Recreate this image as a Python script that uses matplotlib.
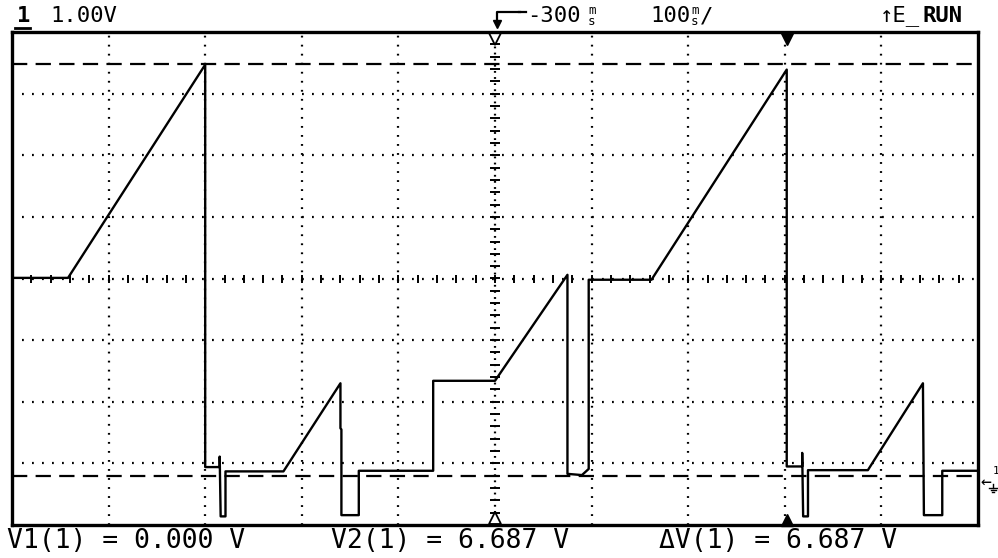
import matplotlib
matplotlib.use("Agg")
from matplotlib import pyplot as plt
from matplotlib.lines import Line2D
import numpy as np

plt.rcParams['lines.scale_dashes'] = False
plt.rcParams['font.family'] = ['DejaVu Sans Mono', 'DejaVu Sans']

W, H = 998, 558

# scope settings shown on screen
volts_per_div = 1.00
ms_per_div = 100
centre_volts = 3.21      # level of the centre graticule line
cursor_v1 = 0.000
cursor_v2 = 6.687
trigger_ms = 500
marker_ms = 802

# trace: time in ms, level in volts
t_ms = [0, 58, 200, 200, 215, 215, 216, 221, 221,
        281, 340, 340, 341, 341, 359, 359,
        436, 436, 500, 575, 575, 590, 597, 597,
        662, 802, 802, 818, 818, 819, 824, 824,
        886, 943, 944, 963, 963, 1000]
volts = [3.22, 3.22, 6.68, 0.15, 0.15, 0.32, -0.65, -0.65, 0.08,
         0.08, 1.51, 0.78, 0.76, -0.63, -0.63, 0.09,
         0.09, 1.55, 1.55, 3.27, 0.04, 0.02, 0.12, 3.19,
         3.19, 6.60, 0.16, 0.16, 0.38, -0.65, -0.65, 0.10,
         0.10, 1.51, -0.63, -0.63, 0.09, 0.09]

fig = plt.figure(figsize=(W / 100, H / 100), dpi=100)


def fx(x):
    return x / W


def fy(y):
    return 1 - y / H


ax = fig.add_axes([fx(12), fy(525), (978 - 12) / W, (525 - 32) / H])
ax.set_xlim(0, 10 * ms_per_div)
ax.set_ylim(centre_volts - 4 * volts_per_div, centre_volts + 4 * volts_per_div)
ax.set_xticks([])
ax.set_yticks([])
for s in ax.spines.values():
    s.set_linewidth(2.4)

# graticule
for i in range(1, 10):
    if i != 5:
        ax.axvline(i * ms_per_div, color='black', lw=1.6, ls=(0, (1.3, 5.2)))
for j in range(-3, 4):
    if j != 0:
        ax.axhline(centre_volts + j * volts_per_div, color='black', lw=1.6, ls=(0, (1.3, 5.9)))

# centre axes with minor ticks
ax.axhline(centre_volts, color='black', lw=1.6, ls=(0, (1.3, 5.9)))
ax.axvline(5 * ms_per_div, color='black', lw=1.6, ls=(0, (1.3, 3.1)))
xt = np.arange(0, 10 * ms_per_div + 1, ms_per_div / 5)
ax.plot(xt, [centre_volts] * len(xt), ls='none', marker='|', ms=6, mew=1.4, color='black')
yt = centre_volts + np.arange(-4, 4.01, 0.2) * volts_per_div
ax.plot([5 * ms_per_div] * len(yt), yt, ls='none', marker='_', ms=7, mew=1.4, color='black')

# cursors
for v in (cursor_v1, cursor_v2):
    ax.axhline(v, color='black', lw=1.6, ls=(0, (11, 6)))

# trace
ax.plot(t_ms, volts, color='black', lw=1.7)

# position markers at top and bottom of the screen
xa = ax.get_xaxis_transform()
ax.plot([trigger_ms], [0.985], transform=xa, marker='v', ms=8, mfc='white', mec='black', mew=1.3, clip_on=False)
ax.plot([trigger_ms], [0.015], transform=xa, marker='^', ms=8, mfc='white', mec='black', mew=1.3, clip_on=False)
ax.plot([marker_ms], [0.985], transform=xa, marker='v', ms=8, color='black', clip_on=False)
ax.plot([marker_ms], [0.01], transform=xa, marker='^', ms=8, color='black', clip_on=False)

# header
fig.text(fx(17), fy(16), "1", fontsize=16, fontweight='bold', va='center')
fig.add_artist(Line2D([fx(15), fx(30)], [fy(28), fy(28)], color='black', lw=2))
fig.text(fx(50), fy(16), "1.00V", fontsize=16, va='center')

fig.add_artist(Line2D([fx(497), fx(497), fx(520)], [fy(24), fy(12), fy(12)], color='black', lw=1.6))
fig.add_artist(Line2D([fx(497)], [fy(24)], marker='v', ms=6, color='black'))
fig.add_artist(Line2D([fx(519), fx(526)], [fy(12), fy(12)], color='black', lw=1.6))
fig.text(fx(527), fy(16), "-300", fontsize=16, va='center')
fig.text(fx(588), fy(16), "m\ns", fontsize=9, va='center', linespacing=0.85)
fig.text(fx(650), fy(16), "100", fontsize=16, va='center')
fig.text(fx(691), fy(16), "m\ns", fontsize=9, va='center', linespacing=0.85)
fig.text(fx(700), fy(16), "/", fontsize=16, va='center')

fig.text(fx(880), fy(16), "\u2191E_", fontsize=16, va='center')
fig.text(fx(922), fy(16), "RUN", fontsize=16, fontweight='bold', va='center')

# ground reference marker on the right
fig.text(fx(980), fy(482), "\u2190", fontsize=13, va='center')
fig.text(fx(993), fy(471), "1", fontsize=8, va='center')
gx, gy = 993, 488
fig.add_artist(Line2D([fx(gx), fx(gx)], [fy(gy - 4), fy(gy)], color='black', lw=1))
for k, half in enumerate((4, 2.5, 1)):
    fig.add_artist(Line2D([fx(gx - half), fx(gx + half)], [fy(gy + 2 * k), fy(gy + 2 * k)], color='black', lw=1))

# cursor readouts
fig.text(fx(7), fy(541), "V1(1) = 0.000 V", fontsize=19, va='center')
fig.text(fx(331), fy(541), "V2(1) = 6.687 V", fontsize=19, va='center')
fig.text(fx(659), fy(541), "\u0394V(1) = 6.687 V", fontsize=19, va='center')

fig.savefig("out.png", dpi=100, facecolor='white')
